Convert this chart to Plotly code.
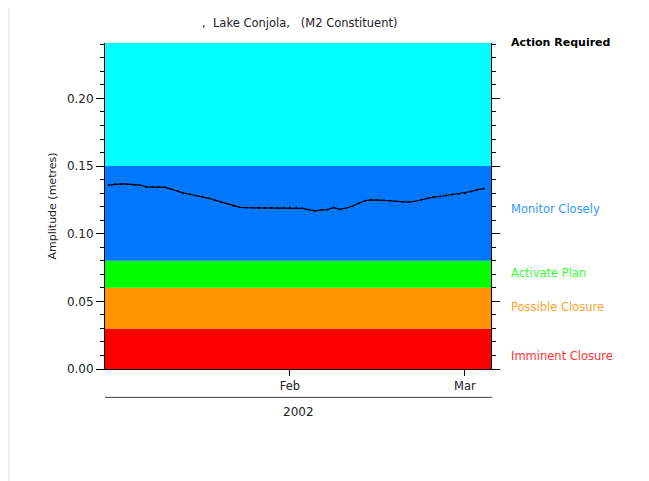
import plotly.graph_objects as go

# ---- data ----
dates = (
    [f"2002-01-{d:02d}" for d in range(3, 32)]
    + [f"2002-02-{d:02d}" for d in range(1, 29)]
    + [f"2002-03-{d:02d}" for d in range(1, 5)]
)
amplitude = [
    0.1360, 0.1365, 0.1368, 0.1366, 0.1362, 0.1360, 0.1347, 0.1345, 0.1345, 0.1343,  # Jan 3-12
    0.1330, 0.1315, 0.1300, 0.1292, 0.1283, 0.1275, 0.1262, 0.1248, 0.1235, 0.1222,  # Jan 13-22
    0.1205, 0.1195, 0.1192, 0.1192, 0.1192, 0.1192, 0.1192, 0.1192, 0.1192,          # Jan 23-31
    0.1192, 0.1192, 0.1188, 0.1178, 0.1168, 0.1176, 0.1178, 0.1193, 0.1180, 0.1190,  # Feb 1-10
    0.1203, 0.1225, 0.1244, 0.1250, 0.1250, 0.1246, 0.1243, 0.1240, 0.1235, 0.1234,  # Feb 11-20
    0.1240, 0.1250, 0.1262, 0.1270, 0.1275, 0.1282, 0.1290, 0.1294,                  # Feb 21-28
    0.1300, 0.1312, 0.1326, 0.1333,                                                  # Mar 1-4
]

band_names = ["Imminent Closure", "Possible Closure", "Activate Plan", "Monitor Closely"]
band_lower = [0.00, 0.03, 0.06, 0.08, 0.15]
band_upper = [0.03, 0.06, 0.08, 0.15, 0.241]
band_colors = ["#FF0000", "#FF9400", "#00FF00", "#0077FF", "#00FFFF"]
label_colors = ["#FF3333", "#FFA033", "#33FF33", "#3399FF"]
label_y = [0.0096, 0.046, 0.071, 0.118]
header_label = "Action Required"

month_ticks = ["2002-02-01", "2002-03-01"]
month_labels = ["Feb", "Mar"]
y_ticks = [0.00, 0.05, 0.10, 0.15, 0.20]
y_ticklabels = ["0.00", "0.05", "0.10", "0.15", "0.20"]

x_range = ["2002-01-02 10:00", "2002-03-05 04:00"]
FONT = "DejaVu Sans"

fig = go.Figure()

fig.add_trace(go.Scatter(
    x=dates, y=amplitude, mode="lines+markers",
    line=dict(color="black", width=1.2),
    marker=dict(color="black", size=2),
    showlegend=False, hoverinfo="x+y",
))

shapes = []
for lo, hi, col in zip(band_lower, band_upper, band_colors):
    shapes.append(dict(type="rect", xref="paper", yref="y", x0=0, x1=1, y0=lo, y1=hi,
                       fillcolor=col, line=dict(width=0), layer="below"))
# year separator line under month labels
shapes.append(dict(type="line", xref="paper", yref="paper", x0=0, x1=1.003, y0=-0.087, y1=-0.087,
                   line=dict(color="#444444", width=1)))
# faint page border at left
shapes.append(dict(type="line", xref="paper", yref="paper", x0=-0.2487, x1=-0.2487, y0=-0.36, y1=1.12,
                   line=dict(color="#dddddd", width=1)))

annotations = []
for name, yv, col in zip(band_names, label_y, label_colors):
    annotations.append(dict(
        x=1.0, xref="paper", xshift=18, y=yv, yref="y", xanchor="left", yanchor="middle",
        text=name, showarrow=False,
        font=dict(family=FONT, size=11.5, color=col),
    ))
annotations.append(dict(
    x=1.0, xref="paper", xshift=18, y=1.0, yshift=1, yref="paper", xanchor="left", yanchor="middle",
    text=f"<b>{header_label}</b>", showarrow=False,
    font=dict(family=FONT, size=11, color="#000000"),
))
annotations.append(dict(x=0.5, xref="paper", y=-0.105, yref="paper", text="2002", showarrow=False,
                        xanchor="center", yanchor="top", font=dict(family=FONT, size=12, color="#222222")))
annotations.append(dict(x=0.505, xref="paper", y=1.0, yshift=29, yref="paper",
                        text=",  Lake Conjola,   (M2 Constituent)", showarrow=False,
                        xanchor="center", yanchor="top", font=dict(family=FONT, size=11.5, color="#222222")))

fig.update_layout(
    width=649, height=481,
    margin=dict(l=97, r=166, t=35, b=120),
    paper_bgcolor="white", plot_bgcolor="white",
    shapes=shapes, annotations=annotations,
    font=dict(family=FONT, size=11, color="#222222"),
    xaxis=dict(
        range=x_range, type="date",
        tickvals=month_ticks, ticktext=month_labels,
        ticks="outside", ticklen=6, tickcolor="black", tickwidth=1,
        showline=True, linecolor="black", linewidth=1,
        showgrid=False, zeroline=False,
        tickfont=dict(family=FONT, size=11.5, color="#222222"),
    ),
    yaxis=dict(
        range=[0, 0.241],
        tickvals=y_ticks, ticktext=y_ticklabels,
        ticks="outside", ticklen=8, tickcolor="black", tickwidth=1,
        minor=dict(dtick=0.01, tick0=0, ticks="outside", ticklen=4, tickcolor="black", showgrid=False),
        showline=True, linecolor="black", linewidth=1, mirror="ticks",
        showgrid=False, zeroline=False,
        title=dict(text="Amplitude (metres)", standoff=8, font=dict(family=FONT, size=11, color="#222222")),
        tickfont=dict(family=FONT, size=12, color="#222222"),
    ),
)

fig.write_html("out.html")
